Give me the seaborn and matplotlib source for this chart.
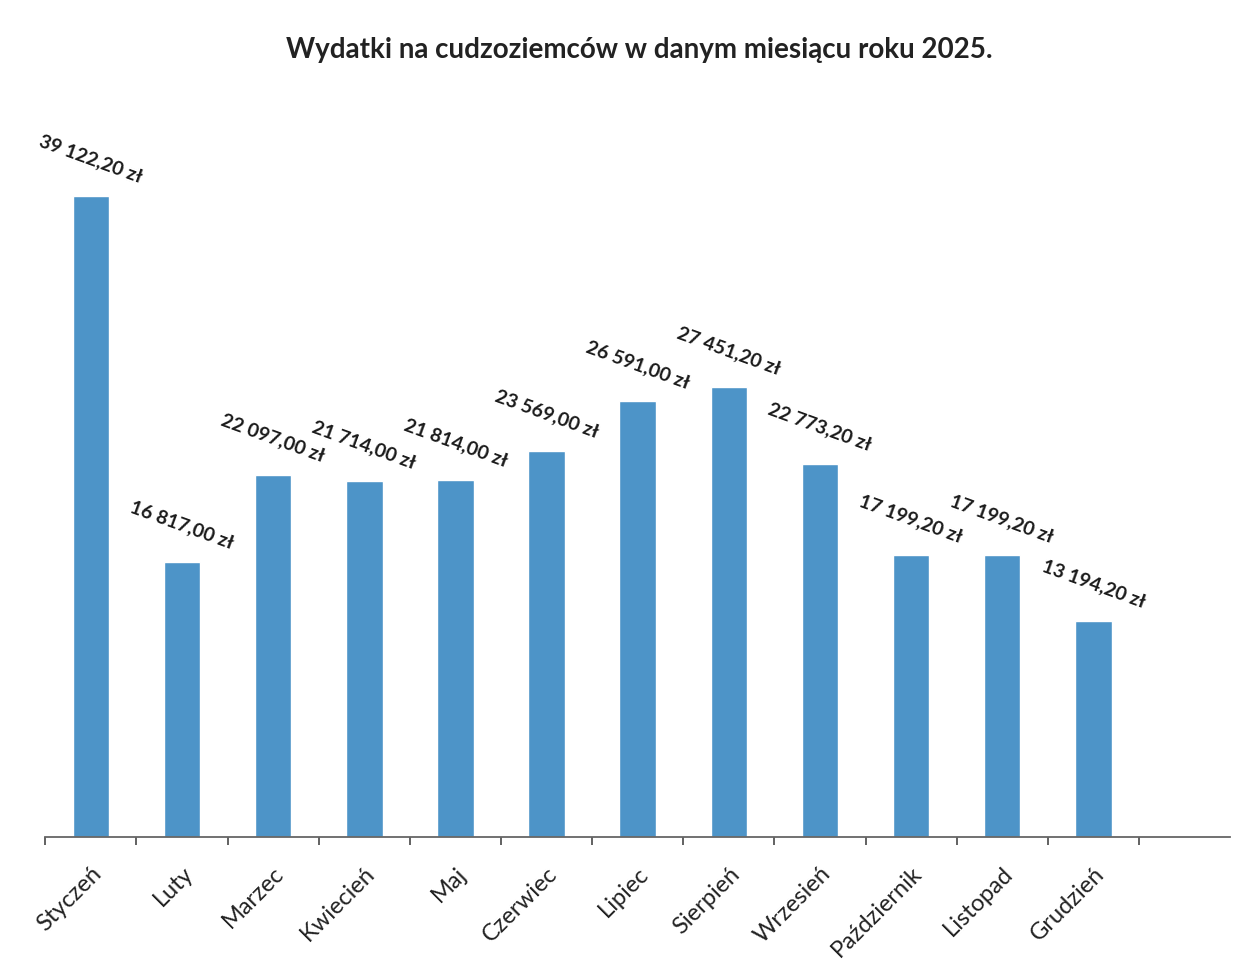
import pandas as pd
import matplotlib.pyplot as plt
import seaborn as sns

months = ["Styczeń", "Luty", "Marzec", "Kwiecień", "Maj", "Czerwiec",
          "Lipiec", "Sierpień", "Wrzesień", "Październik", "Listopad", "Grudzień"]
values = [39122.20, 16817.00, 22097.00, 21714.00, 21814.00, 23569.00,
          26591.00, 27451.20, 22773.20, 17199.20, 17199.20, 13194.20]
labels = ["39 122,20 zł", "16 817,00 zł", "22 097,00 zł", "21 714,00 zł", "21 814,00 zł",
          "23 569,00 zł", "26 591,00 zł", "27 451,20 zł", "22 773,20 zł", "17 199,20 zł",
          "17 199,20 zł", "13 194,20 zł"]

df = pd.DataFrame({"month": months, "value": values})

sns.set_style("white")
plt.rcParams["font.family"] = ["Lato", "DejaVu Sans"]

fig = plt.figure(figsize=(12.59, 9.70), dpi=100)
ax = fig.add_axes([0.036, 0.136, 0.941, 0.76])

sns.barplot(data=df, x="month", y="value", color="#4d94c8", saturation=1,
            width=0.4, ax=ax)

for i, (v, lab) in enumerate(zip(values, labels)):
    ax.annotate(lab, (i, v), xytext=(0, 38), textcoords="offset pixels",
                ha="center", va="center", rotation=-20, fontsize=14,
                fontweight="bold", color="#1a1a1a")

ax.set_xlim(-0.5, 12.5)
ax.set_ylim(0, 45000)
ax.set_xlabel("")
ax.set_ylabel("")
ax.set_yticks([])

# boundary ticks (major, no labels), month labels on minor ticks
ax.set_xticks([i - 0.5 for i in range(13)])
ax.set_xticklabels([])
ax.set_xticks(range(12), minor=True)
ax.set_xticklabels(months, minor=True, rotation=45, ha="right",
                   rotation_mode="anchor", fontsize=17, color="#222222")
ax.tick_params(axis="x", which="major", direction="out", length=6, width=1.3,
               color="#555555", bottom=True)
ax.tick_params(axis="x", which="minor", length=0, pad=18)

for s in ["left", "right", "top"]:
    ax.spines[s].set_visible(False)
ax.spines["bottom"].set_color("#666666")
ax.spines["bottom"].set_linewidth(1.3)

fig.text(0.508, 0.948, "Wydatki na cudzoziemców w danym miesiącu roku 2025.",
         ha="center", va="center", fontsize=20, fontweight="bold", color="#222222")

fig.savefig("out.png", dpi=100)
